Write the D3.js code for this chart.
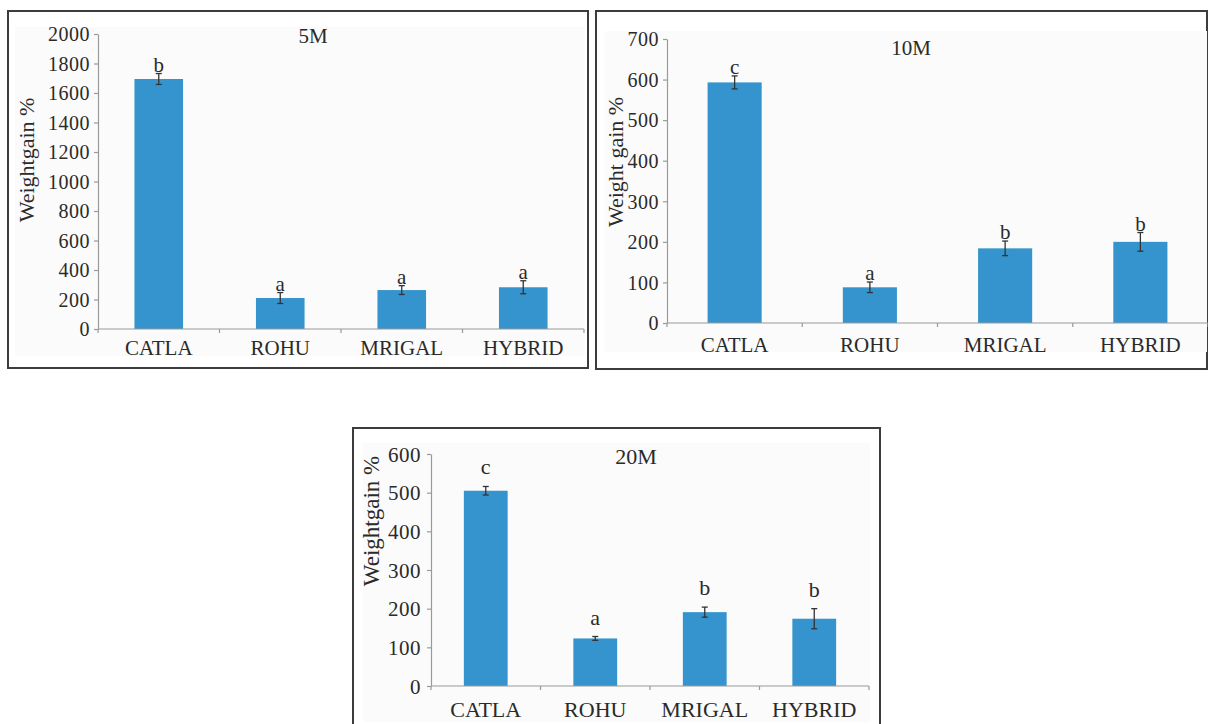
<!DOCTYPE html>
<html>
<head>
<meta charset="utf-8">
<script src="https://cdn.jsdelivr.net/npm/d3@7"></script>
<style>
  html, body { margin: 0; padding: 0; background: #ffffff; }
  svg { display: block; }
  svg text { font-family: 'Liberation Serif', 'Times New Roman', serif !important; fill: #2a2a2a; }
</style>
</head>
<body>
<svg id="chart" width="1208" height="724"></svg>
<script>
// ---------- data ----------
const categories = ["CATLA", "ROHU", "MRIGAL", "HYBRID"];
const panelTitles = ["5M", "10M", "20M"];
const yAxisTitles = ["Weightgain %", "Weight gain %", "Weightgain %"];

const values5M  = [1695, 210, 264, 283];
const errors5M  = [37, 37, 30, 44];
const letters5M = ["b", "a", "a", "a"];

const values10M  = [593, 88, 184, 200];
const errors10M  = [16, 13, 18, 23];
const letters10M = ["c", "a", "b", "b"];

const values20M  = [505, 123, 191, 174];
const errors20M  = [11, 5, 13, 26];
const letters20M = ["c", "a", "b", "b"];

const yMax  = [2000, 700, 600];
const yStep = [200, 100, 100];

// ---------- layout (positions / styles only) ----------
const layouts = [
  { box: [8, 11, 588, 368], bg: [15, 27, 585, 356], px: [98, 584], py: [329, 34],
    titleX: 313, titleY: 43, ylabX: 26, ylabY: 160, catDy: 26, letterGap: 2, tickGap: 8, fs: 21 },
  { box: [596, 11, 1207, 369], bg: [605, 31, 1207, 352], px: [667, 1208], py: [323, 39],
    titleX: 911, titleY: 55, ylabX: 615, ylabY: 162, catDy: 29, letterGap: 2, tickGap: 8, fs: 21 },
  { box: [353, 428, 880, 740], bg: [363, 443, 870, 722], px: [431, 869], py: [686, 454],
    titleX: 636, titleY: 464, ylabX: 371, ylabY: 521, catDy: 31, letterGap: 12, tickGap: 10, fs: 22 }
];

const series = [
  { values: values5M,  errors: errors5M,  letters: letters5M },
  { values: values10M, errors: errors10M, letters: letters10M },
  { values: values20M, errors: errors20M, letters: letters20M }
];

const BAR = "#3594cd";
const AXIS = "#9a9a9a";
const FONT = "'Liberation Serif', 'Times New Roman', serif";

const svg = d3.select("#chart");

layouts.forEach((L, i) => {
  const S = series[i];
  const g = svg.append("g").style("font-family", FONT);

  // panel border
  g.append("rect")
    .attr("x", L.box[0]).attr("y", L.box[1])
    .attr("width", L.box[2] - L.box[0]).attr("height", L.box[3] - L.box[1])
    .attr("fill", "#ffffff").attr("stroke", "#3c3c3c").attr("stroke-width", 2);

  // plot area background
  g.append("rect")
    .attr("x", L.bg[0]).attr("y", L.bg[1])
    .attr("width", L.bg[2] - L.bg[0]).attr("height", L.bg[3] - L.bg[1])
    .attr("fill", "#fbfbfb");

  const x = d3.scaleBand().domain(categories).range(L.px).paddingInner(0.6).paddingOuter(0.3);
  const y = d3.scaleLinear().domain([0, yMax[i]]).range(L.py);
  const ticks = d3.range(0, yMax[i] + 1, yStep[i]);

  // bars
  g.selectAll("rect.bar").data(categories).join("rect")
    .attr("class", "bar")
    .attr("x", d => x(d))
    .attr("width", x.bandwidth())
    .attr("y", (d, j) => y(S.values[j]))
    .attr("height", (d, j) => y(0) - y(S.values[j]))
    .attr("fill", BAR);

  // y axis
  const yAxis = g.append("g")
    .attr("transform", `translate(${L.px[0]},0)`)
    .call(d3.axisLeft(y).tickValues(ticks).tickFormat(d3.format("d"))
      .tickSize(4).tickPadding(L.tickGap - 4).tickSizeOuter(0));
  yAxis.attr("font-family", null).attr("font-size", null);
  yAxis.select(".domain").attr("stroke", AXIS).attr("stroke-width", 1.2);
  yAxis.selectAll(".tick line").attr("stroke", AXIS).attr("stroke-width", 1.2);
  yAxis.selectAll(".tick text")
    .style("font-family", FONT)
    .style("font-size", (L.fs - 1) + "px")
    .attr("letter-spacing", 0.5)
    .attr("fill", "#2a2a2a")
    .attr("dy", "0.34em");

  // x axis line
  g.append("line")
    .attr("x1", L.px[0]).attr("x2", L.px[1])
    .attr("y1", y(0)).attr("y2", y(0))
    .attr("stroke", AXIS).attr("stroke-width", 1.2);

  // x boundary ticks
  const bounds = categories.map(d => x(d) - x.step() * x.paddingInner() / 2).concat([L.px[1]]);
  g.selectAll("line.xt").data(bounds).join("line")
    .attr("class", "xt")
    .attr("x1", d => d).attr("x2", d => d)
    .attr("y1", y(0)).attr("y2", y(0) + 4)
    .attr("stroke", AXIS).attr("stroke-width", 1.2);

  // category labels
  g.selectAll("text.cat").data(categories).join("text")
    .attr("class", "cat")
    .attr("x", d => x(d) + x.bandwidth() / 2)
    .attr("y", y(0) + L.catDy)
    .attr("text-anchor", "middle")
    .style("font-size", L.fs + "px")
    .text(d => d);

  // error bars
  const eb = g.selectAll("g.err").data(categories).join("g").attr("class", "err");
  eb.append("line")
    .attr("x1", d => x(d) + x.bandwidth() / 2).attr("x2", d => x(d) + x.bandwidth() / 2)
    .attr("y1", (d, j) => y(S.values[j] + S.errors[j]))
    .attr("y2", (d, j) => y(S.values[j] - S.errors[j]))
    .attr("stroke", "#333").attr("stroke-width", 1.3);
  [1, -1].forEach(sgn => {
    eb.append("line")
      .attr("x1", d => x(d) + x.bandwidth() / 2 - 3).attr("x2", d => x(d) + x.bandwidth() / 2 + 3)
      .attr("y1", (d, j) => y(S.values[j] + sgn * S.errors[j]))
      .attr("y2", (d, j) => y(S.values[j] + sgn * S.errors[j]))
      .attr("stroke", "#333").attr("stroke-width", 1.3);
  });

  // significance letters
  g.selectAll("text.let").data(categories).join("text")
    .attr("class", "let")
    .attr("x", d => x(d) + x.bandwidth() / 2)
    .attr("y", (d, j) => y(S.values[j] + S.errors[j]) - L.letterGap)
    .attr("text-anchor", "middle")
    .style("font-size", L.fs + "px")
    .text((d, j) => S.letters[j]);

  // panel title
  g.append("text")
    .attr("x", L.titleX).attr("y", L.titleY)
    .attr("text-anchor", "middle")
    .style("font-size", L.fs + "px")
    .text(panelTitles[i]);

  // y axis title
  g.append("text")
    .attr("transform", `translate(${L.ylabX},${L.ylabY}) rotate(-90)`)
    .attr("text-anchor", "middle")
    .attr("dy", "0.35em")
    .style("font-size", (L.fs + 1) + "px")
    .text(yAxisTitles[i]);
});
</script>
</body>
</html>
